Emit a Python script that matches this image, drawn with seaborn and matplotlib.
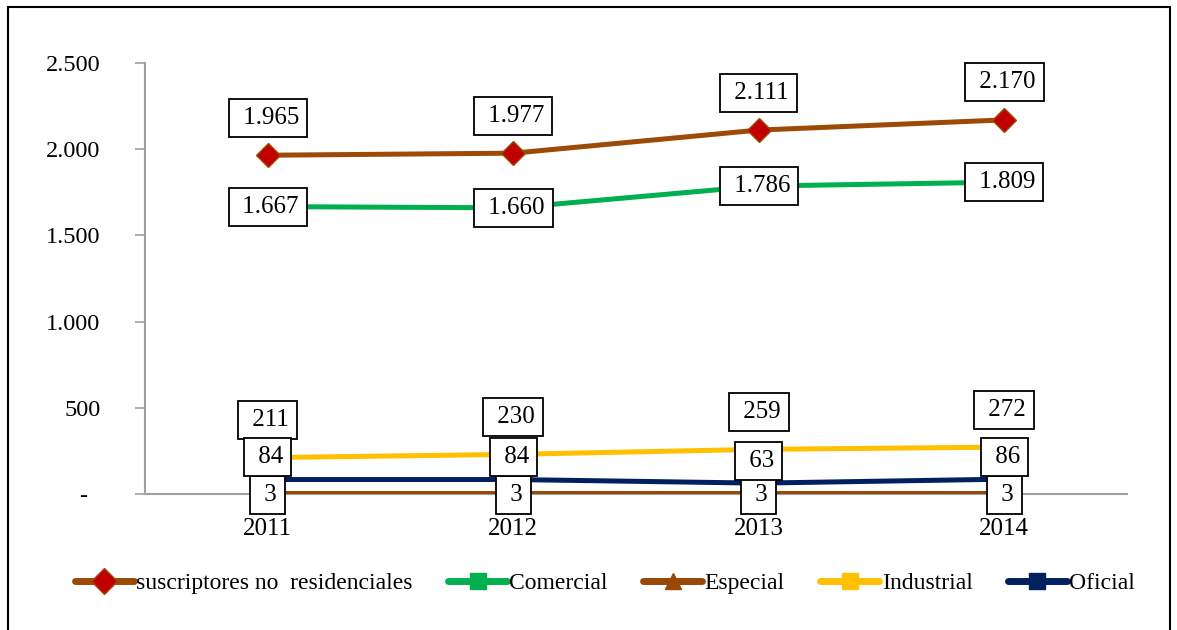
import numpy as np
import pandas as pd
import matplotlib
matplotlib.use("Agg")
import matplotlib.pyplot as plt
import seaborn as sns
from matplotlib.lines import Line2D
from matplotlib.patches import Rectangle

years = ["2011", "2012", "2013", "2014"]
series_names = ["suscriptores no  residenciales", "Comercial", "Especial", "Industrial", "Oficial"]
suscriptores = [1965, 1977, 2111, 2170]
comercial = [1667, 1660, 1786, 1809]
especial = [3, 3, 3, 3]
industrial = [211, 230, 259, 272]
oficial = [84, 84, 63, 86]
y_ticks = [0, 500, 1000, 1500, 2000, 2500]

values = [suscriptores, comercial, especial, industrial, oficial]
colors = ["#9C4A06", "#00B050", "#984807", "#FFC000", "#002060"]
markers = ["D", "s", "^", "s", "s"]
# label vertical offsets in points (box placement relative to point)
label_off = [27, 0, -1, 27, 16]

rows = []
for name, vals in zip(series_names, values):
    for i, v in enumerate(vals):
        rows.append({"x": i, "year": years[i], "value": v, "serie": name})
df = pd.DataFrame(rows)

sns.set_style("white")
plt.rcParams["font.family"] = ["Liberation Serif", "DejaVu Serif"]
plt.rcParams["text.color"] = "black"
plt.rcParams["xtick.labelcolor"] = "black"
plt.rcParams["ytick.labelcolor"] = "black"

fig = plt.figure(figsize=(11.77, 6.30), dpi=100)
ax = fig.add_axes([145 / 1177, 1 - 494 / 630, (1127 - 145) / 1177, (494 - 63) / 630])

for k, name in enumerate(series_names):
    sub = df[df["serie"] == name]
    sns.lineplot(data=sub, x="x", y="value", color=colors[k], linewidth=3.6,
                 marker=markers[k], markersize=12 if k == 0 else 9,
                 markerfacecolor="#C00000" if k == 0 else colors[k],
                 markeredgecolor=colors[k], markeredgewidth=1,
                 ax=ax, legend=False, zorder=3 + k)

def fmt(v):
    return f"{v:,}".replace(",", ".")

for k, name in enumerate(series_names):
    for i, v in enumerate(values[k]):
        ax.annotate(" " + fmt(v), xy=(i, v), xytext=(0, label_off[k]),
                    textcoords="offset points", ha="center", va="center",
                    fontsize=18, color="black", zorder=20 + k,
                    bbox=dict(boxstyle="square,pad=0.32", fc="white", ec="black", lw=1.3))

ax.set_xlim(-0.5, 3.5)
ax.set_ylim(0, 2500)
ax.set_yticks(y_ticks)
ax.set_yticklabels(["-  " if t == 0 else fmt(t) for t in y_ticks])
ax.set_xticks(range(len(years)))
ax.set_xticklabels(years)
ax.set_xticks(np.arange(-0.5, 4.0, 1.0), minor=True)
ax.tick_params(axis="x", which="major", length=0, pad=17, labelsize=18)
ax.tick_params(axis="x", which="minor", length=8, width=1.2, color="#A0A0A0", direction="out")
ax.tick_params(axis="y", which="major", length=7, width=1.2, color="#A0A0A0", direction="out",
               pad=25, labelsize=17.5, left=True)
ax.set_xlabel("")
ax.set_ylabel("")
for s in ["top", "right"]:
    ax.spines[s].set_visible(False)
for s in ["left", "bottom"]:
    ax.spines[s].set_color("#A0A0A0")
    ax.spines[s].set_linewidth(1.5)
ax.grid(False)

handles = []
for k, name in enumerate(series_names):
    handles.append(Line2D([0], [0], color=colors[k], lw=5, marker=markers[k],
                          markersize=13 if k == 0 else 11,
                          markerfacecolor="#C00000" if k == 0 else colors[k],
                          markeredgecolor=colors[k]))
fig.legend(handles, series_names, loc="center", bbox_to_anchor=(605 / 1177, 1 - 583 / 630),
           ncol=5, frameon=False, fontsize=17, handlelength=2.5, handletextpad=0.1,
           columnspacing=1.5)

fig.patches.append(Rectangle((8 / 1177, -0.05), (1170 - 8) / 1177, 1.05 - 7 / 630,
                             transform=fig.transFigure, fill=False, ec="black", lw=1.5))

fig.savefig("out.png", dpi=100)
